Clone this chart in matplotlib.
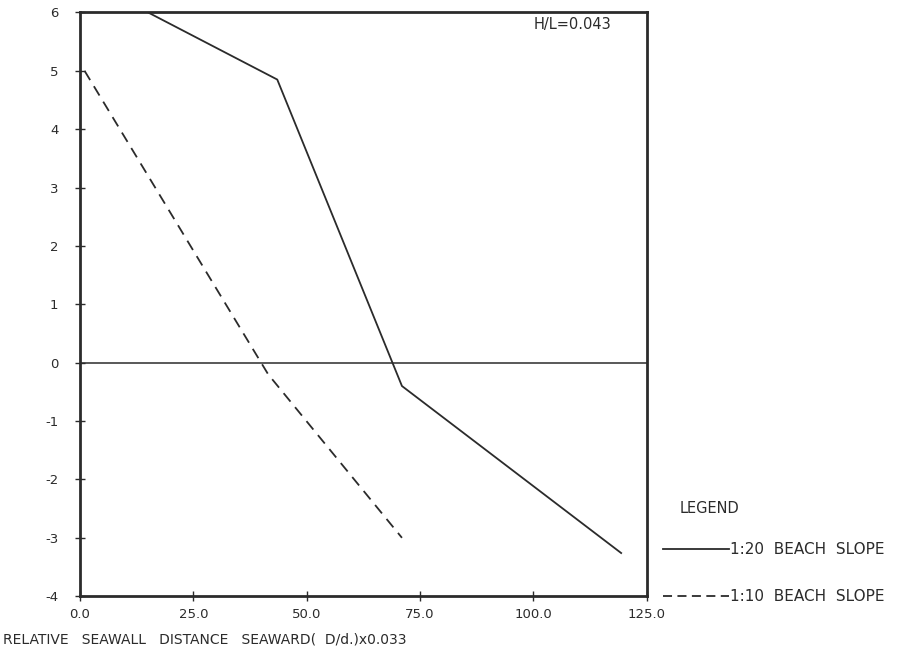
import matplotlib
matplotlib.use("Agg")
import matplotlib.pyplot as plt
from matplotlib.lines import Line2D

# data
slope20_x = [15.0, 43.5, 71.0, 119.5]
slope20_y = [6.0, 4.85, -0.4, -3.27]
slope10_x = [1.0, 41.5, 71.0]
slope10_y = [5.0, -0.2, -3.0]

x_ticks = [0, 25, 50, 75, 100, 125]
x_labels = ["0.0", "25.0", "50.0", "75.0", "100.0", "125.0"]
y_ticks = [-4, -3, -2, -1, 0, 1, 2, 3, 4, 5, 6]

ink = "#2b2b2b"
plt.rcParams['font.family'] = ['DejaVu Sans']
plt.rcParams['axes.unicode_minus'] = False

fig = plt.figure(figsize=(9.04, 6.53), dpi=100)
ax = fig.add_axes([0.0885, 0.087, 0.627, 0.894])

ax.plot(slope20_x, slope20_y, color=ink, linewidth=1.3, solid_capstyle='butt')
ax.plot(slope10_x, slope10_y, color=ink, linewidth=1.3, dashes=(6, 4))
ax.axhline(0, color=ink, linewidth=1.1)

ax.set_xlim(0, 125)
ax.set_ylim(-4, 6)
ax.set_xticks(x_ticks)
ax.set_xticklabels(x_labels)
ax.set_yticks(y_ticks)
ax.tick_params(direction='inout', length=7, width=1, colors=ink, labelsize=9.5)
ax.tick_params(axis='y', pad=12)
ax.tick_params(axis='x', pad=5)
for s in ax.spines.values():
    s.set_linewidth(2)
    s.set_color(ink)

ax.text(100, 5.72, "H/L=0.043", fontsize=10.5, color=ink)

# x axis title, bottom left
fig.text(0.003, 0.021, "RELATIVE   SEAWALL   DISTANCE   SEAWARD(  D/d.)x0.033",
         fontsize=10, color=ink, ha='left', va='center')

# legend drawn by hand at the right
fig.text(0.752, 0.222, "LEGEND", fontsize=10.5, color=ink, va='center')
fig.add_artist(Line2D([0.733, 0.806], [0.159, 0.159], color=ink, linewidth=1.3))
fig.text(0.808, 0.159, "1:20  BEACH  SLOPE", fontsize=11, color=ink, va='center')
fig.add_artist(Line2D([0.733, 0.806], [0.087, 0.087], color=ink, linewidth=1.3,
                      dashes=(5, 3)))
fig.text(0.808, 0.087, "1:10  BEACH  SLOPE", fontsize=11, color=ink, va='center')

fig.savefig("out.png", dpi=100)
